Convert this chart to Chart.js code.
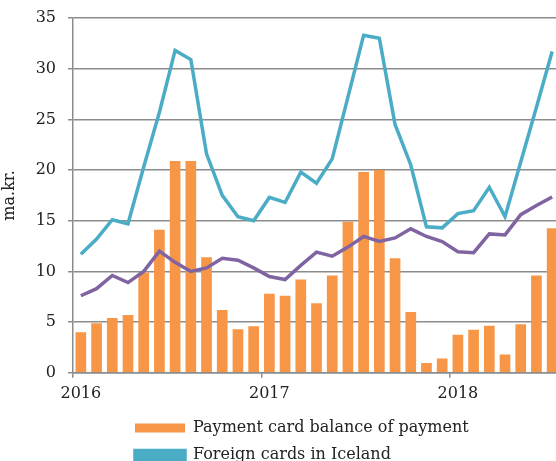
<!DOCTYPE html>
<html lang="en">
<head>
  <meta charset="UTF-8">
  <title>Payment cards</title>
  <script src="https://cdn.jsdelivr.net/npm/chart.js"></script>
  <style>
    body {
      margin: 0;
      background: white;
      overflow: hidden;
    }
    #wrap {
      width: 560px;
      height: 473px;
    }
  </style>
</head>
<body>

<div id="wrap"><canvas id="cardChart"></canvas></div>

<script>
  // months Jan 2016 - Jul 2018
  const months = [
    "2016-01", "2016-02", "2016-03", "2016-04", "2016-05", "2016-06",
    "2016-07", "2016-08", "2016-09", "2016-10", "2016-11", "2016-12",
    "2017-01", "2017-02", "2017-03", "2017-04", "2017-05", "2017-06",
    "2017-07", "2017-08", "2017-09", "2017-10", "2017-11", "2017-12",
    "2018-01", "2018-02", "2018-03", "2018-04", "2018-05", "2018-06",
    "2018-07"
  ];
  const balance = [
    4.0, 4.9, 5.4, 5.7, 9.9, 14.1, 20.9, 20.9, 11.4, 6.2, 4.3, 4.6,
    7.8, 7.6, 9.2, 6.85, 9.6, 14.9, 19.8, 20.0, 11.3, 6.0, 0.96, 1.4,
    3.75, 4.25, 4.65, 1.8, 4.8, 9.6, 14.25
  ];
  const foreignCards = [
    11.7, 13.2, 15.1, 14.7, 20.3, 25.7, 31.8, 30.9, 21.6, 17.5, 15.4, 15.0,
    17.3, 16.8, 19.8, 18.7, 21.1, 27.2, 33.3, 33.0, 24.5, 20.5, 14.4, 14.3,
    15.7, 16.0, 18.3, 15.4, 20.8, 26.2, 31.7
  ];
  const icelandicCards = [
    7.6, 8.3, 9.6, 8.9, 10.0, 12.0, 10.9, 10.0, 10.35, 11.3, 11.1, 10.35,
    9.5, 9.2, 10.6, 11.9, 11.5, 12.4, 13.45, 12.95, 13.3, 14.2, 13.45, 12.95,
    11.95, 11.85, 13.7, 13.6, 15.6, 16.5, 17.35
  ];
  const yTicks = [0, 5, 10, 15, 20, 25, 30, 35];

  const ORANGE = "#f79646";
  const BLUE = "#4bacc6";
  const PURPLE = "#8064a2";
  const GRID = "#8c8c8c";
  const FONT = "'DejaVu Serif', serif";

  // move legend rows so they start under the chart, all left aligned
  const legendShift = {
    id: "legendShift",
    afterLayout(chart) {
      chart.legend.left += 124;
    }
  };

  const ctx = document.getElementById("cardChart").getContext("2d");
  new Chart(ctx, {
    type: "bar",
    data: {
      labels: months,
      datasets: [
        {
          label: "Payment card balance of payment",
          data: balance,
          backgroundColor: ORANGE,
          borderWidth: 0,
          barPercentage: 0.68,
          categoryPercentage: 1,
          order: 2
        },
        {
          type: "line",
          label: "Foreign cards in Iceland",
          data: foreignCards,
          borderColor: BLUE,
          backgroundColor: BLUE,
          borderWidth: 3.5,
          pointRadius: 0,
          tension: 0,
          order: 1
        },
        {
          type: "line",
          label: "Icelandic cards abroad",
          data: icelandicCards,
          borderColor: PURPLE,
          backgroundColor: PURPLE,
          borderWidth: 3.5,
          pointRadius: 0,
          tension: 0,
          order: 1
        }
      ]
    },
    options: {
      responsive: true,
      maintainAspectRatio: false,
      animation: false,
      layout: { padding: { top: 18, right: 0, left: 0, bottom: 0 } },
      plugins: {
        tooltip: { enabled: false },
        legend: {
          position: "bottom",
          align: "start",
          maxWidth: 350,
          labels: {
            boxWidth: 50,
            boxHeight: 9,
            padding: 11,
            color: "#222",
            font: { family: FONT, size: 16 },
            sort: (a, b) => a.datasetIndex - b.datasetIndex
          }
        }
      },
      scales: {
        x: {
          grid: {
            offset: true,
            drawOnChartArea: false,
            tickLength: 5,
            color: (c) => (c.index % 12 === 0 ? GRID : "transparent"),
            lineWidth: 1.5
          },
          border: { color: GRID, width: 1.5 },
          ticks: {
            autoSkip: false,
            maxRotation: 0,
            padding: 6,
            color: "#222",
            font: { family: FONT, size: 16 },
            callback: (v, i) => (i % 12 === 0 ? months[i].slice(0, 4) : "")
          }
        },
        y: {
          min: 0,
          max: 35,
          afterBuildTicks: (s) => { s.ticks = yTicks.map((v) => ({ value: v })); },
          afterFit: (s) => { s.width = 73; s.paddingTop = 0; },
          title: {
            display: true,
            text: "ma.kr.",
            color: "#222",
            font: { family: FONT, size: 16 },
            padding: 0
          },
          grid: { color: GRID, lineWidth: 1.5, tickLength: 5 },
          border: { color: GRID, width: 1.5 },
          ticks: {
            padding: 12,
            color: "#222",
            font: { family: FONT, size: 16 }
          }
        }
      }
    },
    plugins: [legendShift]
  });
</script>

</body>
</html>
